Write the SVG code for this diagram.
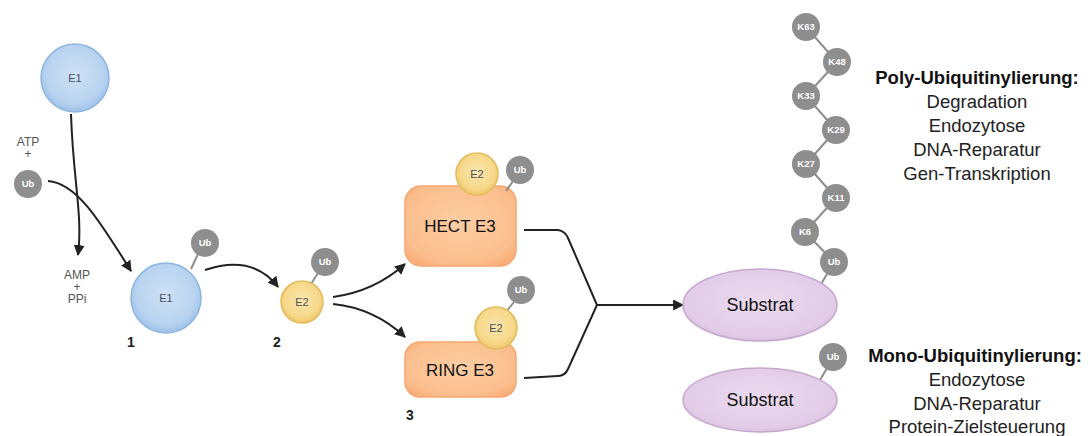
<svg xmlns="http://www.w3.org/2000/svg" width="1091" height="436" viewBox="0 0 1091 436">
  <defs>
    <radialGradient id="gE1" cx="50%" cy="45%" r="55%">
      <stop offset="0" stop-color="#CFE1F5"/>
      <stop offset="0.75" stop-color="#B9D4F0"/>
      <stop offset="1" stop-color="#9FC2EA"/>
    </radialGradient>
    <radialGradient id="gE2" cx="50%" cy="45%" r="55%">
      <stop offset="0" stop-color="#FAE6AE"/>
      <stop offset="0.75" stop-color="#F6D889"/>
      <stop offset="1" stop-color="#EEC56A"/>
    </radialGradient>
    <radialGradient id="gE3" cx="50%" cy="45%" r="65%">
      <stop offset="0" stop-color="#FCCDA3"/>
      <stop offset="0.8" stop-color="#FBBE8D"/>
      <stop offset="1" stop-color="#F8AE78"/>
    </radialGradient>
    <radialGradient id="gSub" cx="50%" cy="45%" r="60%">
      <stop offset="0" stop-color="#EBDAEF"/>
      <stop offset="0.8" stop-color="#E2CCE8"/>
      <stop offset="1" stop-color="#D5BADD"/>
    </radialGradient>
    <marker id="arrow" viewBox="0 0 10 10" refX="9" refY="5" markerWidth="5.5" markerHeight="5.5" orient="auto" markerUnits="strokeWidth">
      <path d="M0,0 L10,5 L0,10 Z" fill="#222"/>
    </marker>
    <style>
      .e1 { fill: url(#gE1); stroke: #8DB5E0; stroke-width: 1.5; }
      .e2 { fill: url(#gE2); stroke: #E2BC5F; stroke-width: 1.5; }
      .e3 { fill: url(#gE3); stroke: #F6A670; stroke-width: 1.5; }
      .sub { fill: url(#gSub); stroke: #C6A7D0; stroke-width: 1.5; }
      .ub { fill: #8E8E8E; }
      .stick { stroke: #8E8E8E; stroke-width: 2; fill: none; }
      .lbl { font-family: "Liberation Sans", Arial, sans-serif; text-anchor: middle; }
      .small { font-size: 11px; fill: #4A4F5A; }
      .ubt { font-size: 9.5px; fill: #FFFFFF; font-weight: bold; }
      .side { font-size: 12px; fill: #555; }
      .step { font-size: 14px; font-weight: bold; fill: #222; }
      .big { font-size: 17px; fill: #111; }
      .head { font-size: 18.5px; font-weight: bold; fill: #111; }
      .item { font-size: 18.5px; fill: #222; }
      .conn { stroke: #222; stroke-width: 2; fill: none; }
    </style>
  </defs>
  <rect width="1091" height="436" fill="#FFFFFF"/>

  <!-- reaction arrows -->
  <g id="connectors">
    <path class="conn" d="M71,114 C73,180 83,215 78,255" marker-end="url(#arrow)"/>
    <path class="conn" d="M48,181 C76,183 98,218 131,271" marker-end="url(#arrow)"/>
    <path class="conn" d="M205,270 C238,259 262,266 278,287" marker-end="url(#arrow)"/>
    <path class="conn" d="M333,297 C362,293 385,282 405,264" marker-end="url(#arrow)"/>
    <path class="conn" d="M333,304 C362,307 385,318 405,337" marker-end="url(#arrow)"/>
    <path class="conn" d="M524,230 L558,230 Q565,231 568,238 L597,305 L568,369 Q565,376 558,376 L524,378"/>
    <path class="conn" d="M597,305 L683,305" marker-end="url(#arrow)"/>
  </g>

  <!-- free E1 -->
  <g id="e1-free">
    <circle class="e1" cx="75" cy="78" r="34"/>
    <text class="lbl small" x="75" y="82">E1</text>
  </g>

  <!-- ATP + Ub input -->
  <g id="atp-ub">
    <text class="lbl side" x="28" y="146">ATP</text>
    <text class="lbl side" x="28" y="158">+</text>
    <circle class="ub" cx="28" cy="184" r="14"/>
    <text class="lbl ubt" x="28" y="187">Ub</text>
  </g>

  <!-- AMP + PPi output -->
  <g id="amp-ppi">
    <text class="lbl side" x="77" y="279">AMP</text>
    <text class="lbl side" x="77" y="291">+</text>
    <text class="lbl side" x="77" y="303">PPi</text>
  </g>

  <!-- step 1: E1~Ub -->
  <g id="e1-ub">
    <line class="stick" x1="198" y1="254" x2="191" y2="269"/>
    <circle class="e1" cx="166" cy="298" r="35"/>
    <circle class="ub" cx="205" cy="243" r="14"/>
    <text class="lbl ubt" x="205" y="246">Ub</text>
    <text class="lbl small" x="166" y="302">E1</text>
    <text class="lbl step" x="131" y="347">1</text>
  </g>

  <!-- step 2: E2~Ub -->
  <g id="e2-ub">
    <line class="stick" x1="318" y1="273" x2="311" y2="284"/>
    <circle class="e2" cx="302" cy="302" r="21"/>
    <circle class="ub" cx="325" cy="262" r="14"/>
    <text class="lbl ubt" x="325" y="265">Ub</text>
    <text class="lbl small" x="302" y="306">E2</text>
    <text class="lbl step" x="277" y="347">2</text>
  </g>

  <!-- step 3a: HECT E3 -->
  <g id="hect-e3">
    <rect class="e3" x="405" y="186" width="111" height="80" rx="16"/>
    <circle class="e2" cx="477" cy="174" r="21"/>
    <line class="stick" x1="513" y1="181" x2="506" y2="191"/>
    <circle class="ub" cx="520" cy="170" r="14"/>
    <text class="lbl ubt" x="520" y="173">Ub</text>
    <text class="lbl small" x="477" y="178">E2</text>
    <text class="lbl big" x="460" y="232">HECT E3</text>
  </g>

  <!-- step 3b: RING E3 -->
  <g id="ring-e3">
    <rect class="e3" x="405" y="342" width="111" height="55" rx="15"/>
    <line class="stick" x1="514" y1="302" x2="506" y2="312"/>
    <circle class="e2" cx="496" cy="328" r="21"/>
    <circle class="ub" cx="521" cy="290" r="14"/>
    <text class="lbl ubt" x="521" y="293">Ub</text>
    <text class="lbl small" x="496" y="332">E2</text>
    <text class="lbl big" x="460" y="376">RING E3</text>
    <text class="lbl step" x="410" y="420">3</text>
  </g>

  <!-- poly-ubiquitinated substrate -->
  <g id="substrat-poly">
    <line class="stick" x1="806" y1="27" x2="837" y2="62"/>
    <line class="stick" x1="837" y1="62" x2="806" y2="96"/>
    <line class="stick" x1="806" y1="96" x2="836" y2="130"/>
    <line class="stick" x1="836" y1="130" x2="806" y2="164"/>
    <line class="stick" x1="806" y1="164" x2="836" y2="198"/>
    <line class="stick" x1="836" y1="198" x2="805" y2="232"/>
    <line class="stick" x1="805" y1="232" x2="834" y2="262"/>
    <line class="stick" x1="834" y1="262" x2="820" y2="286"/>
    <ellipse class="sub" cx="760" cy="305" rx="77" ry="36"/>
    <text class="lbl big" x="760" y="311" style="font-size:18px">Substrat</text>
    <circle class="ub" cx="806" cy="27" r="14"/>
    <text class="lbl ubt" x="806" y="30">K63</text>
    <circle class="ub" cx="837" cy="62" r="14"/>
    <text class="lbl ubt" x="837" y="65">K48</text>
    <circle class="ub" cx="806" cy="96" r="14"/>
    <text class="lbl ubt" x="806" y="99">K33</text>
    <circle class="ub" cx="836" cy="130" r="14"/>
    <text class="lbl ubt" x="836" y="133">K29</text>
    <circle class="ub" cx="806" cy="164" r="14"/>
    <text class="lbl ubt" x="806" y="167">K27</text>
    <circle class="ub" cx="836" cy="198" r="14"/>
    <text class="lbl ubt" x="836" y="201">K11</text>
    <circle class="ub" cx="805" cy="232" r="14"/>
    <text class="lbl ubt" x="805" y="235">K6</text>
    <circle class="ub" cx="834" cy="262" r="14"/>
    <text class="lbl ubt" x="834" y="265">Ub</text>
  </g>

  <!-- mono-ubiquitinated substrate -->
  <g id="substrat-mono">
    <line class="stick" x1="833" y1="358" x2="820" y2="380"/>
    <ellipse class="sub" cx="760" cy="400" rx="77" ry="32"/>
    <text class="lbl big" x="760" y="406" style="font-size:18px">Substrat</text>
    <circle class="ub" cx="833" cy="357" r="14"/>
    <text class="lbl ubt" x="833" y="360">Ub</text>
  </g>

  <!-- outcome lists -->
  <g id="poly-text">
    <text class="lbl head" x="977" y="84">Poly-Ubiquitinylierung:</text>
    <text class="lbl item" x="977" y="108">Degradation</text>
    <text class="lbl item" x="977" y="132">Endozytose</text>
    <text class="lbl item" x="977" y="156">DNA-Reparatur</text>
    <text class="lbl item" x="977" y="180">Gen-Transkription</text>
  </g>
  <g id="mono-text">
    <text class="lbl head" x="975" y="362">Mono-Ubiquitinylierung:</text>
    <text class="lbl item" x="977" y="386">Endozytose</text>
    <text class="lbl item" x="977" y="410">DNA-Reparatur</text>
    <text class="lbl item" x="977" y="433">Protein-Zielsteuerung</text>
  </g>
</svg>
